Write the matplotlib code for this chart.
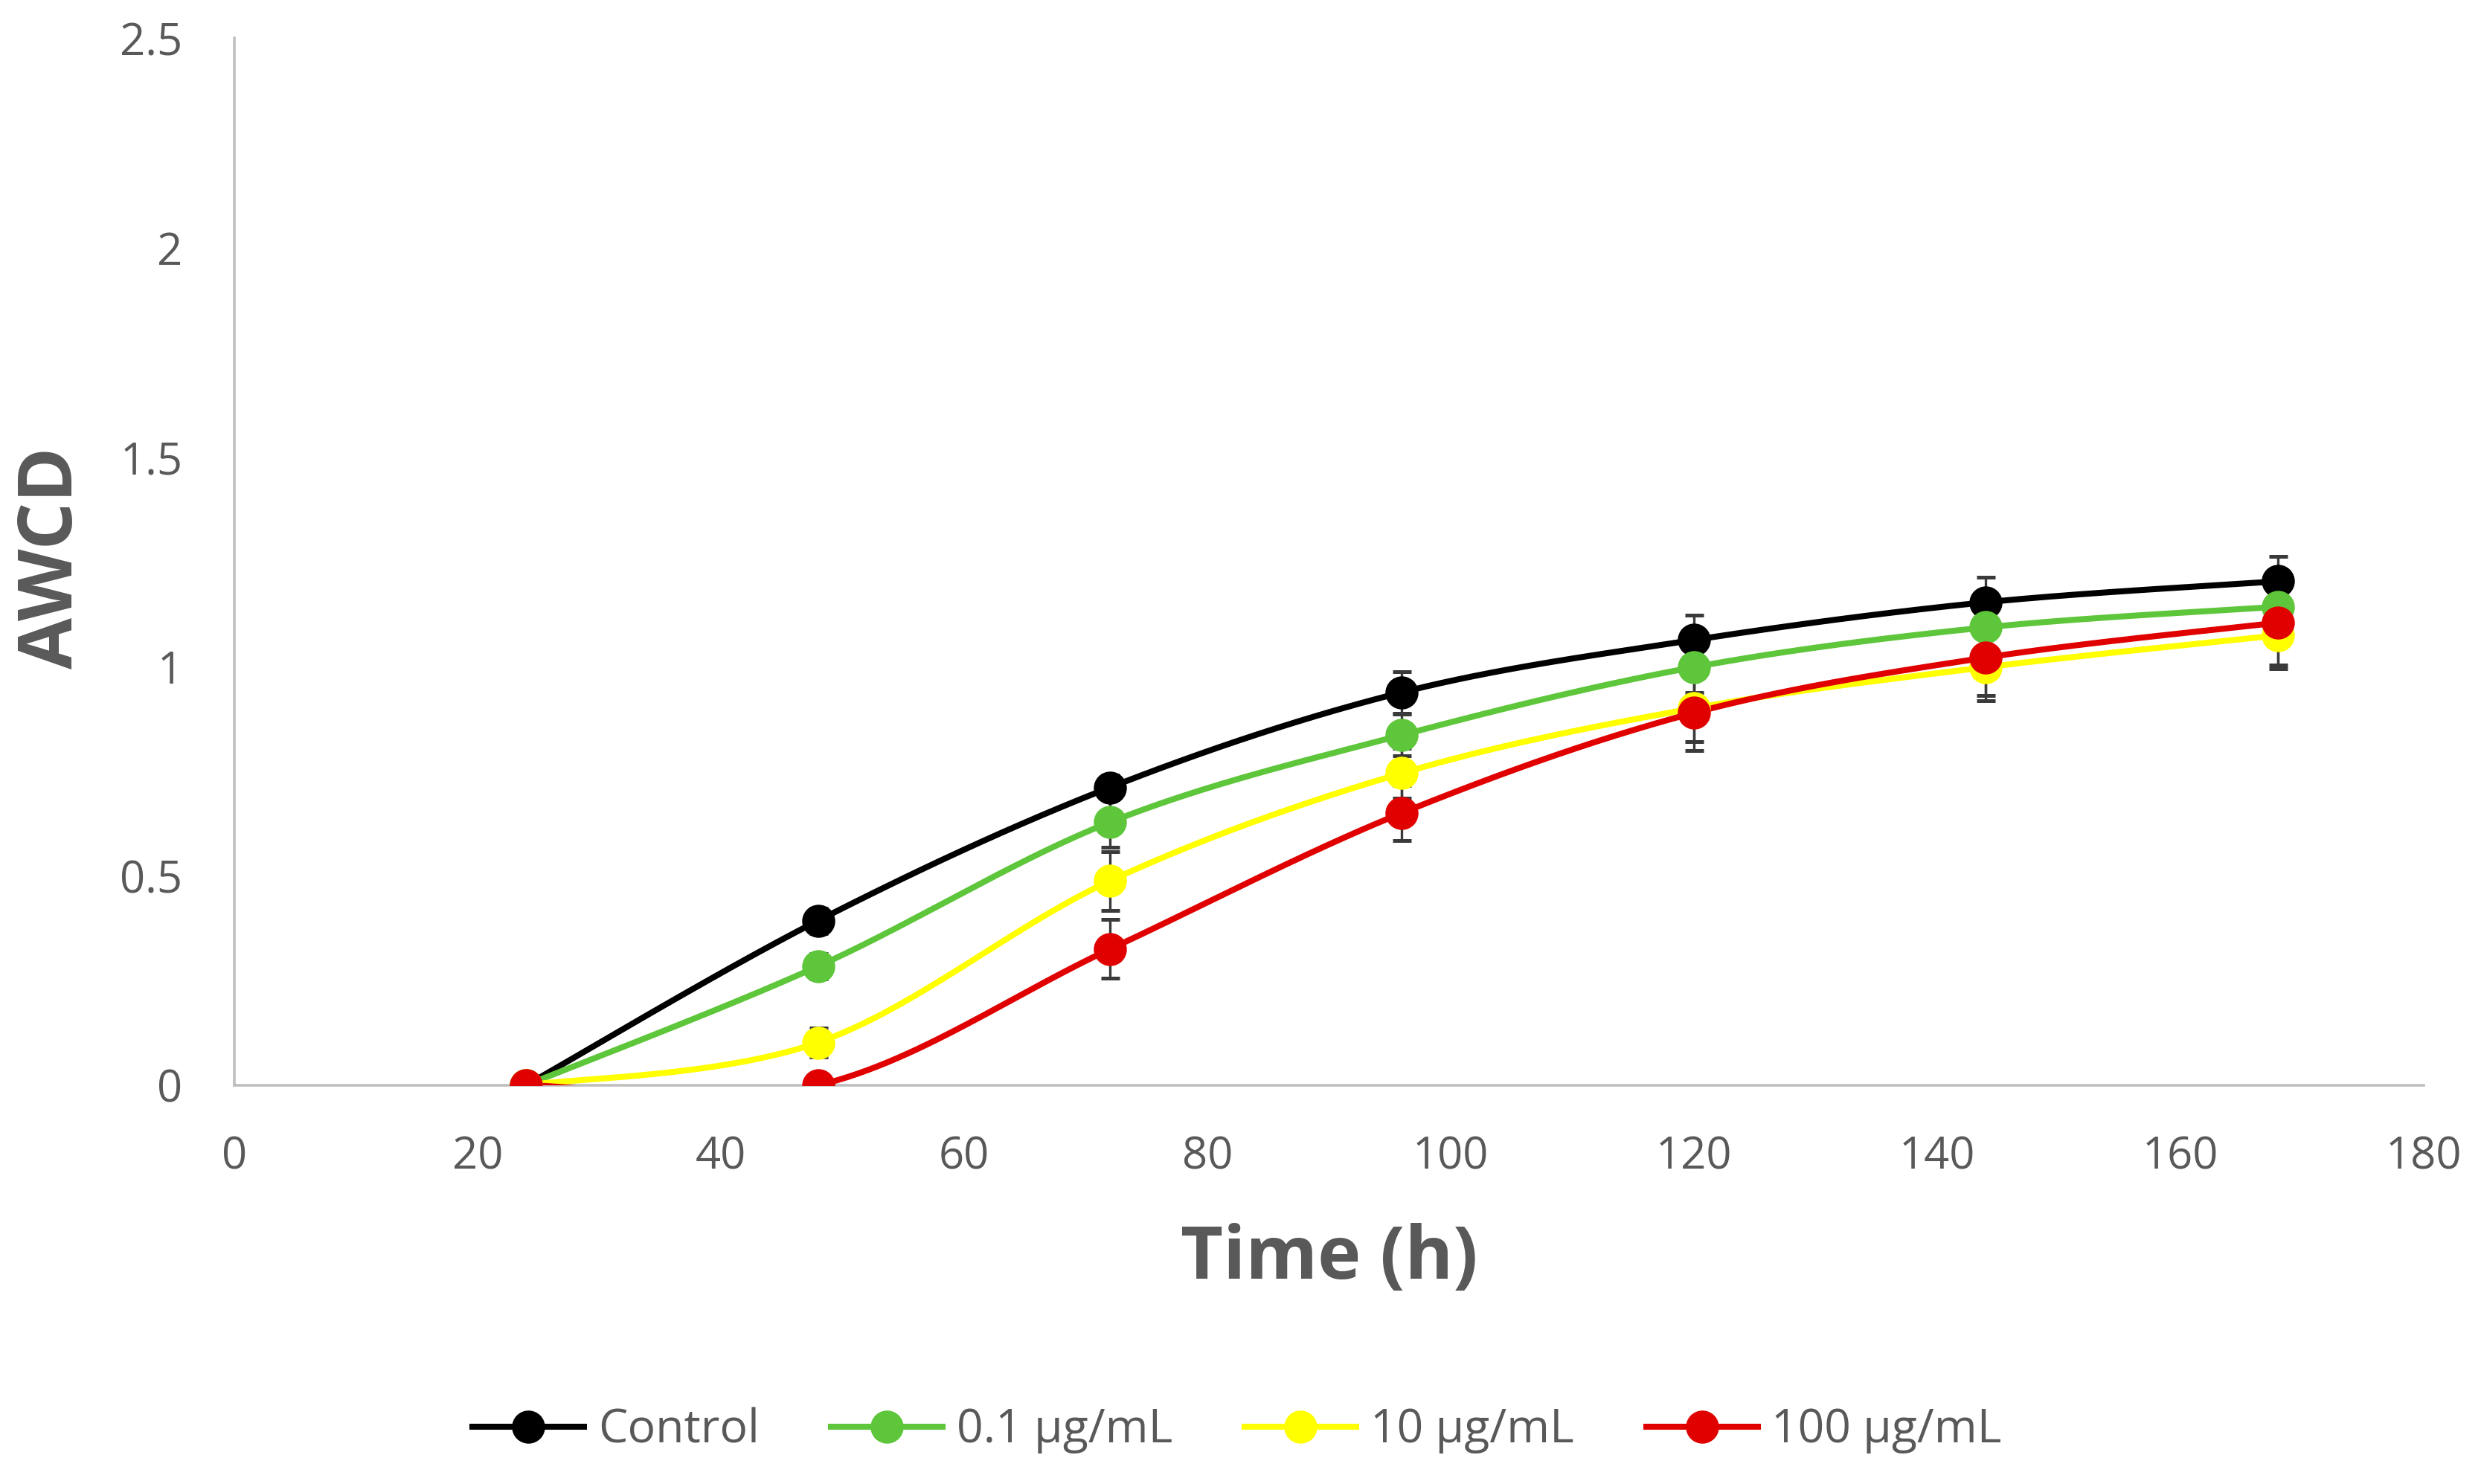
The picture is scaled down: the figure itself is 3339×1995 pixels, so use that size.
import numpy as np
import matplotlib
matplotlib.use("Agg")
import matplotlib.pyplot as plt
from matplotlib.lines import Line2D

# ---- data ----
time_h = [24, 48, 72, 96, 120, 144, 168]
series_names = ["Control", "0.1 \u00b5g/mL", "10 \u00b5g/mL", "100 \u00b5g/mL"]
control = [0.0, 0.393, 0.711, 0.938, 1.063, 1.153, 1.203]
dose_01 = [0.0, 0.284, 0.628, 0.836, 0.998, 1.093, 1.142]
dose_10 = [0.0, 0.102, 0.488, 0.745, 0.900, 0.998, 1.074]
dose_100 = [0.0, 0.0, 0.325, 0.650, 0.889, 1.021, 1.104]
err_control = [0.0, 0.03, 0.03, 0.05, 0.06, 0.06, 0.06]
err_01 = [0.0, 0.03, 0.06, 0.05, 0.06, 0.06, 0.06]
err_10 = [0.0, 0.035, 0.07, 0.06, 0.08, 0.08, 0.08]
err_100 = [0.0, 0.02, 0.07, 0.065, 0.09, 0.09, 0.10]
x_ticks = [0, 20, 40, 60, 80, 100, 120, 140, 160, 180]
y_ticks = [0, 0.5, 1, 1.5, 2, 2.5]
y_tick_labels = ["0", "0.5", "1", "1.5", "2", "2.5"]

colors = ["#000000", "#5EC63A", "#FFFF00", "#E00000"]
values = [control, dose_01, dose_10, dose_100]
errors = [err_control, err_01, err_10, err_100]

plt.rcParams['font.family'] = ['Open Sans', 'DejaVu Sans']


def smooth(xs, ys, n=60):
    """Excel-like smoothed line: Catmull-Rom segments as cubic Bezier."""
    xs = np.asarray(xs, float)
    ys = np.asarray(ys, float)
    px, py = [], []
    m = len(xs)
    for i in range(m - 1):
        i0 = max(i - 1, 0)
        i3 = min(i + 2, m - 1)
        p0 = np.array([xs[i], ys[i]])
        p3 = np.array([xs[i + 1], ys[i + 1]])
        c1 = p0 + (p3 - np.array([xs[i0], ys[i0]])) / 6.0
        c2 = p3 - (np.array([xs[i3], ys[i3]]) - p0) / 6.0
        t = np.linspace(0, 1, n)[:, None]
        pts = ((1 - t) ** 3) * p0 + 3 * ((1 - t) ** 2) * t * c1 + 3 * (1 - t) * t ** 2 * c2 + t ** 3 * p3
        px.extend(pts[:, 0])
        py.extend(pts[:, 1])
    return np.array(px), np.array(py)


fig = plt.figure(figsize=(16.695, 9.975), dpi=200)
ax = fig.add_axes([0.0943, 0.2687, 0.8814, 0.7057])

for i, (vals, errs, col) in enumerate(zip(values, errors, colors)):
    sx, sy = smooth(time_h, vals)
    ax.plot(sx, sy, color=col, lw=2.9, zorder=3 + i * 0.1, solid_capstyle='round')
    ax.errorbar(time_h, vals, yerr=errs, fmt='none', ecolor='#3a3a3a', elinewidth=1.2,
                capsize=4.5, capthick=1.8, zorder=2.5)
    ax.plot(time_h, vals, linestyle='none', marker='o', markersize=15,
            markerfacecolor=col, markeredgecolor=col, zorder=4 + i * 0.1)

ax.set_xlim(0, 180)
ax.set_ylim(0, 2.5)
ax.set_xticks(x_ticks)
ax.set_yticks(y_ticks)
ax.set_yticklabels(y_tick_labels)
ax.tick_params(axis='both', length=0, labelsize=21.5, labelcolor='#595959')
ax.tick_params(axis='x', pad=24)
ax.tick_params(axis='y', pad=25)
for s in ['top', 'right']:
    ax.spines[s].set_visible(False)
for s in ['left', 'bottom']:
    ax.spines[s].set_color('#BFBFBF')
    ax.spines[s].set_linewidth(1.3)

fig.text(0.535, 0.151, "Time (h)", ha='center', va='center', fontsize=35.5,
         fontweight='bold', color='#595959')
fig.text(0.021, 0.624, "AWCD", ha='center', va='center', rotation=90, fontsize=36,
         fontweight='bold', color='#595959')

handles = [Line2D([0], [0], color=c, lw=2.9, marker='o', markersize=15,
                  markerfacecolor=c, markeredgecolor=c) for c in colors]
fig.legend(handles, series_names, loc='center', bbox_to_anchor=(0.498, 0.036), ncol=4,
           frameon=False, fontsize=22.5, handlelength=2.4, handletextpad=0.3,
           columnspacing=1.55, labelcolor='#595959')

fig.savefig("out.png", dpi=200, facecolor='white')
